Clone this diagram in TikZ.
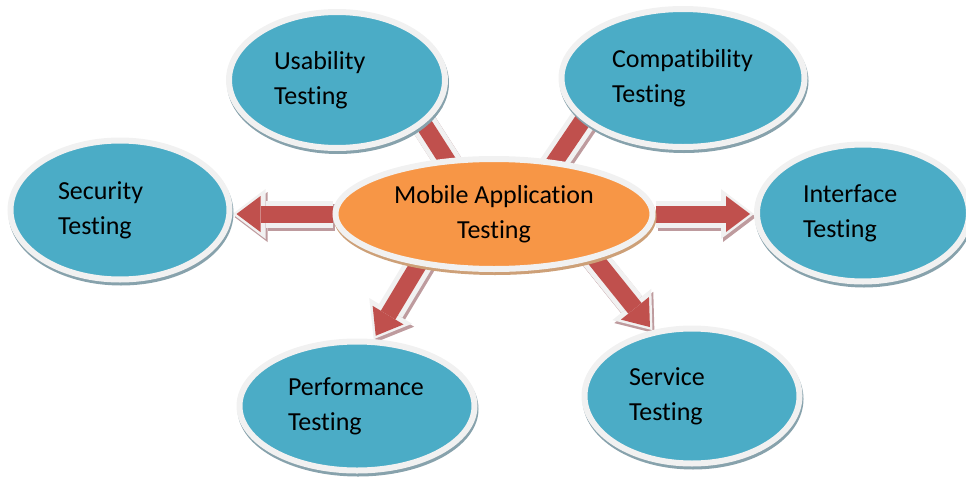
\documentclass[tikz,border=0pt]{standalone}
\usepackage{fontspec}
\setmainfont{Carlito}[Ligatures = NoCommon]
\usetikzlibrary{shapes.geometric, arrows.meta, calc, backgrounds}

\definecolor{skyblue}{RGB}{75,172,198}
\definecolor{huborange}{RGB}{247,150,70}
\definecolor{arrowred}{RGB}{192,80,77}
\definecolor{rim}{RGB}{241,241,241}
\definecolor{blueshade}{RGB}{135,162,172}
\definecolor{orangeshade}{RGB}{205,160,120}
\definecolor{redshade}{RGB}{190,155,158}

\begin{document}
\begin{tikzpicture}[x = 1pt, y = -1pt,
	castshadow/.style = {preaction = {draw = #1, fill = #1, transform canvas = {shift = {(1pt, -3pt)}}}},
	blob/.style = {ellipse, draw = rim, line width = 6pt, inner sep = 0pt, font = \fontsize{26}{35}\selectfont},
	bubble/.style = {blob, fill = skyblue, align = left, castshadow = blueshade},
	hub/.style = {blob, fill = huborange, align = center, castshadow = orangeshade},
	fatarrow/.style = {draw = arrowred, line width = 17pt, shorten > = 4pt,
		-{Triangle[length = 24pt, width = 36pt, line width = 0pt]},
		preaction = {draw = redshade, line width = 27pt, shorten > = 0pt,
			-{Triangle[length = 33pt, width = 50pt, line width = 0pt]},
			transform canvas = {shift = {(2pt, -3pt)}}},
		preaction = {draw = rim, line width = 27pt, shorten > = 0pt,
			-{Triangle[length = 33pt, width = 50pt, line width = 0pt]}}}]

	% Definitions

	\def\tuck{20pt}		% how far arrows start inside the hub

	\useasboundingbox (0, 0) rectangle (966, 479);

	% Hub

	\node [hub, minimum width = 317pt, minimum height = 110pt] (mobile) at (494, 214) {Mobile Application\\Testing};

	% Outer bubbles

	\node [bubble, minimum width = 216pt, minimum height = 136pt, text width = 126pt] (usability) at (337, 80) {Usability\\Testing};
	\node [bubble, minimum width = 243pt, minimum height = 138pt, text width = 142pt] (compat) at (683, 78) {Compatibility\\Testing};
	\node [bubble, minimum width = 219pt, minimum height = 139pt, text width = 124pt] (security) at (120, 210) {Security\\Testing};
	\node [bubble, minimum width = 212pt, minimum height = 137pt, text width = 120pt] (interface) at (863, 213) {Interface\\Testing};
	\node [bubble, minimum width = 235pt, minimum height = 129pt, text width = 138pt] (performance) at (357, 406) {Performance\\Testing};
	\node [bubble, minimum width = 215pt, minimum height = 135pt, text width = 126pt] (service) at (692, 396) {Service\\Testing};

	% Arrows, behind the bubbles

	\begin{scope}[on background layer]
		\draw [fatarrow] (mobile.west) -- (mobile.west -| security.east);
		\draw [fatarrow] (mobile.east) -- (mobile.east -| interface.west);
		\draw [fatarrow] ($(mobile.214)!-\tuck!(performance.76)$) -- (performance.76);
		\draw [fatarrow] ($(mobile.336)!-\tuck!(service.121)$) -- (service.121);
		\draw [fatarrow] ($(mobile.131)!-\tuck!(usability.333)$) -- ($(mobile.131)!2!(usability.333)$);
		\draw [fatarrow] ($(mobile.41)!-\tuck!(compat.203)$) -- ($(mobile.41)!2!(compat.203)$);
	\end{scope}

\end{tikzpicture}
\end{document}
